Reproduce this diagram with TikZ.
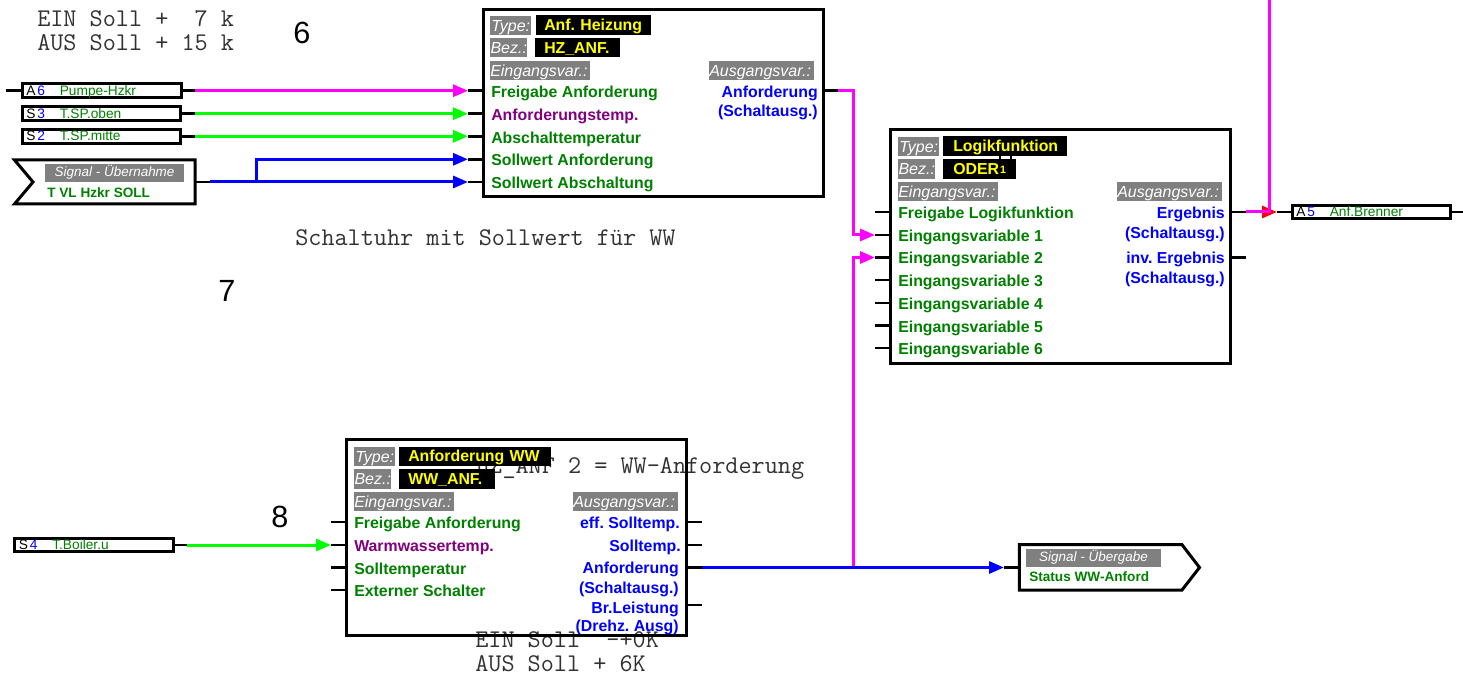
\documentclass[tikz,border=0pt]{standalone}
\usepackage{fontspec}
\setmainfont{Liberation Sans}
\usetikzlibrary{arrows.meta}
\AtBeginDocument{\frenchspacing}
\definecolor{vargreen}{RGB}{0,128,0}
\definecolor{varpurple}{RGB}{128,0,128}
\definecolor{magline}{RGB}{255,0,255}
\definecolor{grnline}{RGB}{0,255,0}
\definecolor{bluline}{RGB}{0,0,255}
\definecolor{tagray}{RGB}{128,128,128}
\definecolor{yel}{RGB}{255,255,0}
\definecolor{monotxt}{RGB}{50,50,50}
\newcommand{\fsz}[1]{\fontsize{#1}{#1}\selectfont}
\tikzset{
  blockbox/.style={draw=black,line width=2.25pt,inner sep=0pt,outer sep=0pt,anchor=north west},
  iobox/.style={draw=black,line width=2.25pt,fill=white,inner sep=0pt,outer sep=0pt,anchor=north west},
  monotext/.style={anchor=base west,inner sep=0pt,text=monotxt,font=\ttfamily\fsz{19.1pt}},
  bignum/.style={inner sep=0pt,font=\fsz{23pt}},
  tagbox/.style={fill=tagray,text=white,inner sep=0pt,anchor=west,align=left,text height=10.4pt,text depth=2pt,font=\itshape\fsz{12pt}},
  valbox/.style={fill=black,text=yel,inner sep=0pt,anchor=west,align=left,text height=10.4pt,text depth=2pt,font=\bfseries\fsz{11.9pt}},
  invar/.style={anchor=west,inner sep=0pt,text=vargreen,text height=10.4pt,text depth=2pt,font=\bfseries\fsz{11.9pt}},
  invarp/.style={invar,text=varpurple},
  outvar/.style={anchor=east,inner sep=0pt,text=bluline,text height=10.4pt,text depth=2pt,font=\bfseries\fsz{11.9pt}},
  iokind/.style={anchor=west,inner sep=0pt,text height=7pt,text depth=0pt,font=\fsz{10.3pt}},
  ionum/.style={iokind,text=bluline},
  ioname/.style={iokind,text=vargreen},
  sighead/.style={fill=tagray,text=white,inner sep=0pt,text height=7.5pt,text depth=2.5pt,font=\itshape\fsz{10.1pt}},
  signame/.style={anchor=west,inner sep=0pt,text=vargreen,text height=7.5pt,text depth=0pt,font=\bfseries\fsz{10.2pt}},
  pin/.style={draw=black,line width=1.9pt},
  wire/.style={line width=2.25pt,-{Triangle[length=11.25pt,width=9pt]}},
  wirep/.style={line width=2.25pt},
  sigline/.style={line width=2.25pt,line join=miter},
}
\begin{document}
\begin{tikzpicture}[x=0.75pt,y=-0.75pt]
\useasboundingbox (0,0) rectangle (1463,673);

% free texts, under the blocks
\node[monotext] (t1) at (37,27) {EIN Soll +\ \ 7 k};
\node[monotext] (t2) at (37,51) {AUS Soll + 15 k};
\node[monotext] (t3) at (295,246) {Schaltuhr mit Sollwert für WW};
\node[monotext] (t4) at (476,473) {HZ\_ANF 2 = WW-Anforderung};
\node[monotext] (t5) at (475,647) {EIN Soll\ \ -+0K};
\node[monotext] (t6) at (475,671) {AUS Soll + 6K};
\node[bignum] (n6) at (302,33) {6};
\node[bignum] (n7) at (227,291) {7};
\node[bignum] (n8) at (280,517) {8};
\draw[black,line width=1.1pt] (1000,154) -- (1000,160) (1011,154) -- (1011,160);

% block 1
\node[blockbox,minimum width=255pt,minimum height=140.6pt] (b1) at (483,9.5) {};
\node[tagbox,minimum width=30.75pt,minimum height=14.25pt] (b1tt) at (490,25.5) {Type:};
\node[valbox,minimum width=86.25pt,minimum height=15pt,text width=86.25pt] (b1tv) at (536,25) {\hspace*{6pt}Anf. Heizung};
\node[tagbox,minimum width=27.75pt,minimum height=14.25pt] (b1bt) at (490,47.5) {Bez.:};
\node[valbox,minimum width=63.75pt,minimum height=14.25pt,text width=63.75pt] (b1bv) at (535,47.5) {\hspace*{6.75pt}HZ\_ANF.};
\node[tagbox,minimum width=75pt,minimum height=14.25pt,text width=75pt] (b1ei) at (490,70.5) {Eingangsvar.:};
\node[tagbox,minimum width=78.75pt,minimum height=14.25pt,text width=78.75pt] (b1au) at (709,70.5) {Ausgangsvar.:};
\node[invar] (b1i1) at (491,92) {Freigabe Anforderung};
\node[invarp] (b1i2) at (491,115) {Anforderungstemp.};
\node[invar] (b1i3) at (491,138.3) {Abschalttemperatur};
\node[invar] (b1i4) at (491,160.3) {Sollwert Anforderung};
\node[invar] (b1i5) at (491,183) {Sollwert Abschaltung};
\node[outvar] (b1o1) at (818,92) {Anforderung};
\node[outvar] (b1o2) at (818,111) {(Schaltausg.)};

% block 3 (logic)
\node[blockbox,minimum width=255.2pt,minimum height=175pt] (b3) at (890.7,130) {};
\node[tagbox,minimum width=30.75pt,minimum height=14.25pt] (b3tt) at (898,146.5) {Type:};
\node[valbox,minimum width=93pt,minimum height=15pt,text width=93pt] (b3tv) at (943,146) {\hspace*{7.5pt}Logikfunktion};
\node[tagbox,minimum width=27.75pt,minimum height=15pt] (b3bt) at (898,169) {Bez.:};
\node[valbox,minimum width=54.75pt,minimum height=15pt,text width=54.75pt] (b3bv) at (943,168.7) {\hspace*{7.5pt}ODER};
\node[inner sep=0pt,text=yel,font=\bfseries\fsz{8pt}] (b3bn) at (1003,170) {1};
\node[tagbox,minimum width=75pt,minimum height=14.25pt,text width=75pt] (b3ei) at (898,191.5) {Eingangsvar.:};
\node[tagbox,minimum width=78.75pt,minimum height=14.25pt,text width=78.75pt] (b3au) at (1117,191.5) {Ausgangsvar.:};
\node[invar] (b3i0) at (898,212.7) {Freigabe Logikfunktion};
\node[invar] (b3i1) at (898,236) {Eingangsvariable 1};
\node[invar] (b3i2) at (898,258.4) {Eingangsvariable 2};
\node[invar] (b3i3) at (898,281) {Eingangsvariable 3};
\node[invar] (b3i4) at (898,303.6) {Eingangsvariable 4};
\node[invar] (b3i5) at (898,327) {Eingangsvariable 5};
\node[invar] (b3i6) at (898,349.3) {Eingangsvariable 6};
\node[outvar] (b3o1) at (1225,212.7) {Ergebnis};
\node[outvar] (b3o2) at (1225,232.6) {(Schaltausg.)};
\node[outvar] (b3o3) at (1225,258.4) {inv. Ergebnis};
\node[outvar] (b3o4) at (1225,278.3) {(Schaltausg.)};

% block 2
\node[blockbox,minimum width=255pt,minimum height=147pt] (b2) at (346.5,439.7) {};
\node[tagbox,minimum width=30.75pt,minimum height=14.25pt] (b2tt) at (354,456.7) {Type:};
\node[valbox,minimum width=114pt,minimum height=14.25pt,text width=114pt] (b2tv) at (399,456) {\hspace*{6.75pt}Anforderung WW};
\node[tagbox,minimum width=27.75pt,minimum height=15pt] (b2bt) at (354,479) {Bez.:};
\node[valbox,minimum width=72pt,minimum height=15pt,text width=72pt] (b2bv) at (399,478.7) {\hspace*{6.75pt}WW\_ANF.};
\node[tagbox,minimum width=75pt,minimum height=14.25pt,text width=75pt] (b2ei) at (354,501.5) {Eingangsvar.:};
\node[tagbox,minimum width=78.75pt,minimum height=14.25pt,text width=78.75pt] (b2au) at (573,501.5) {Ausgangsvar.:};
\node[invar] (b2i1) at (354,523.3) {Freigabe Anforderung};
\node[invarp] (b2i2) at (354,546) {Warmwassertemp.};
\node[invar] (b2i3) at (354,568.6) {Solltemperatur};
\node[invar] (b2i4) at (354,591) {Externer Schalter};
\node[outvar] (b2o1) at (680,523.3) {eff. Solltemp.};
\node[outvar] (b2o2) at (681,546) {Solltemp.};
\node[outvar] (b2o3) at (679,568.3) {Anforderung};
\node[outvar] (b2o4) at (679,587.6) {(Schaltausg.)};
\node[outvar] (b2o5) at (679,607.6) {Br.Leistung};
\node[outvar] (b2o6) at (679,626) {(Drehz. Ausg)};

% io boxes
\node[iobox,minimum width=119.25pt,minimum height=10.5pt] (a6) at (22,84) {};
\node[iobox,minimum width=118.5pt,minimum height=10.1pt] (s3) at (22,107) {};
\node[iobox,minimum width=118.5pt,minimum height=10.3pt] (s2) at (22,129.7) {};
\node[iobox,minimum width=118.9pt,minimum height=10.1pt] (s4) at (14.5,538.5) {};
\node[iobox,minimum width=118.9pt,minimum height=10.1pt] (a5) at (1292,205.5) {};
\foreach \nm/\x/\y/\k/\d/\txt in {a6l/22/91/A/6/Pumpe-Hzkr,s3l/22/113.7/S/3/T.SP.oben,s2l/22/136.3/S/2/T.SP.mitte,s4l/14.5/545/S/4/T.Boiler.u,a5l/1292/211.7/A/5/Anf.Brenner}{
  \node[iokind] (\nm k) at (\x+4,\y) {\k};
  \node[ionum] (\nm n) at (\x+15,\y) {\d};
  \node[ioname] (\nm t) at (\x+37.5,\y) {\txt};
}

% signal boxes
\draw[sigline] (14.5,160) -- (195,160) -- (195,204) -- (14.5,204) -- (33,182) -- cycle;
\node[sighead,minimum width=104pt,minimum height=13.3pt] (sig1h) at (114.6,172.9) {Signal - Übernahme};
\node[signame] (sig1n) at (47,192.3) {T VL Hzkr SOLL};
\draw[sigline] (1019.3,544.7) -- (1182,544.7) -- (1199.5,567.5) -- (1182,590) -- (1019.3,590) -- cycle;
\node[sighead,minimum width=101.25pt,minimum height=13.3pt] (sig2h) at (1093.5,557.9) {Signal - Übergabe};
\node[signame] (sig2n) at (1029,576.7) {Status WW-Anford};

% pins and wires
\coordinate (pa6l) at (6,90.7);
\coordinate (pa6r) at (195,90.7);
\coordinate (ps3r) at (195,113.7);
\coordinate (ps2r) at (195,136.3);
\coordinate (ps4r) at (187,545);
\coordinate (psig1) at (210,182);
\foreach \c/\y in {1/90.7,2/113.7,3/136.3,4/159.3,5/182}{\coordinate (b1p\c) at (468,\y); \draw[pin] (b1p\c) -- (483,\y);}
\coordinate (b1q) at (838,90.7);
\draw[pin] (823,90.7) -- (b1q);
\foreach \c/\y in {0/212,1/235,2/257.5,3/280,4/303,5/325.7,6/348}{\coordinate (b3p\c) at (875,\y); \draw[pin] (b3p\c) -- (890,\y);}
\coordinate (b3q1) at (1246,212);
\coordinate (b3q2) at (1246,257.5);
\draw[pin] (1231,212) -- (b3q1);
\draw[pin] (1231,257.5) -- (b3q2);
\foreach \c/\y in {1/522,2/545,3/567.5,4/590}{\coordinate (b2p\c) at (331,\y); \draw[pin] (b2p\c) -- (346,\y);}
\foreach \c/\y in {1/522,2/545,3/567.5,4/605}{\coordinate (b2q\c) at (702,\y); \draw[pin] (687,\y) -- (b2q\c);}
\draw[pin] (pa6l) -- (a6.west |- pa6l);
\draw[pin] (a6.east |- pa6r) -- (pa6r);
\draw[pin] (s3.east |- ps3r) -- (ps3r);
\draw[pin] (s2.east |- ps2r) -- (ps2r);
\draw[pin] (s4.east |- ps4r) -- (ps4r);
\draw[pin] (195,182) -- (psig1);
\coordinate (a5in) at (1277,212);
\coordinate (a5out) at (1463,212);
\draw[pin] (a5in) -- (a5.west |- a5in);
\draw[pin] (a5.east |- a5out) -- (a5out);
\coordinate (sig2in) at (1004,567.5);
\draw[pin] (sig2in) -- (1019,567.5);

\draw[wire,magline] (pa6r) -- (b1p1);
\draw[wire,grnline] (ps3r) -- (b1p2);
\draw[wire,grnline] (ps2r) -- (b1p3);
\draw[wire,bluline] (psig1) -- (256,182) -- (256,159.3) -- (b1p4);
\draw[wire,bluline] (psig1) -- (b1p5);
\draw[wire,grnline] (ps4r) -- (b2p2);
\draw[wire,magline] (b1q) -- (853,90.7) -- (853,235) -- (b3p1);
\draw[wire,magline] (853,567.5) -- (853,257.5) -- (b3p2);
\draw[wire,bluline] (b2q3) -- (sig2in);
\draw[wire,red] (b3q1) -- (a5in);
\coordinate (topm) at (1269,0);
\draw[wirep,magline] (b3q1) -- (1269,212) -- (topm);
\end{tikzpicture}
\end{document}
